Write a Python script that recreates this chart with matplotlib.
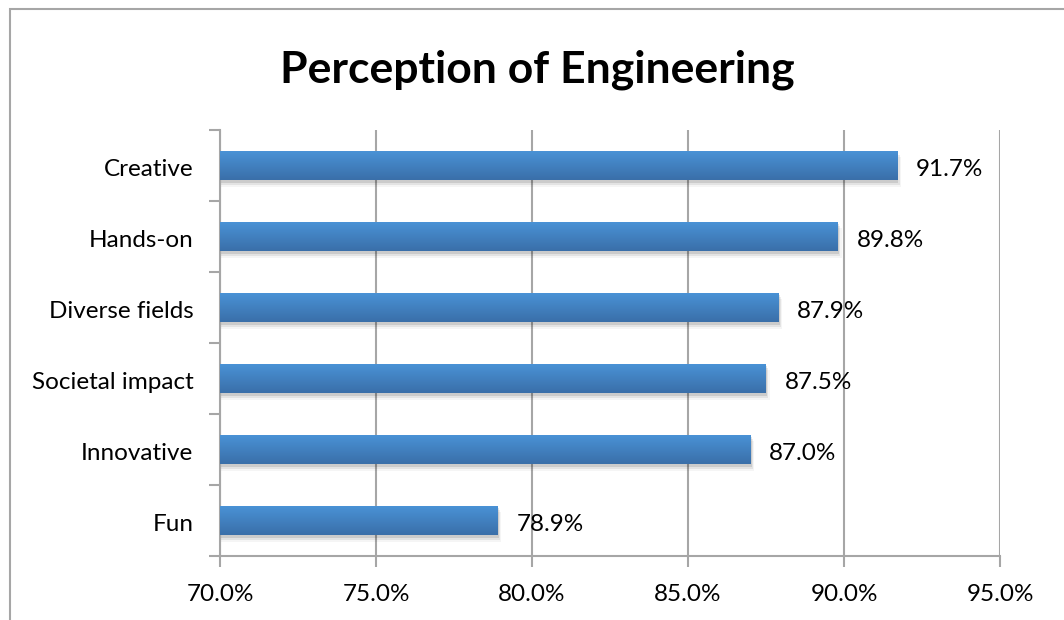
import matplotlib.pyplot as plt
import numpy as np
from matplotlib.colors import LinearSegmentedColormap
from matplotlib.patches import Rectangle
from matplotlib.transforms import ScaledTranslation, blended_transform_factory

categories = ["Fun", "Innovative", "Societal impact", "Diverse fields", "Hands-on", "Creative"]
values = [78.9, 87.0, 87.5, 87.9, 89.8, 91.7]
xticks = [70, 75, 80, 85, 90, 95]

plt.rcParams["font.family"] = ["Lato", "DejaVu Sans"]

fig = plt.figure(figsize=(10.64, 6.2), dpi=100)
ax = fig.add_axes([220 / 1064, 64 / 620, 780 / 1064, 426 / 620])
down = ScaledTranslation(0, -0.04, fig.dpi_scale_trans)  # nudge text down ~4px

# outer chart border (only top/left visible in the crop)
fig.patches.append(Rectangle((10 / 1064, -0.1), 1.2, 1.1 - 9 / 620, transform=fig.transFigure,
                             fill=False, edgecolor="#a6a6a6", linewidth=1.5))

grad = LinearSegmentedColormap.from_list("bar", ["#3a6fa9", "#4a93d7"])
y = np.arange(len(categories))
bar_h = 0.42
bars = ax.barh(y, [v - 70 for v in values], left=70, height=bar_h, color="none", zorder=3)

for b in bars:
    x0, y0, w, h = b.get_x(), b.get_y(), b.get_width(), b.get_height()
    # soft shadow
    for k, a in enumerate([0.10, 0.07, 0.04]):
        d = 0.03 * (k + 1)
        ax.add_patch(Rectangle((x0, y0 - d), w + 0.04 * (k + 1), h, facecolor="black",
                               edgecolor="none", alpha=a, zorder=2))
    im = ax.imshow(np.linspace(0, 1, 64).reshape(-1, 1), cmap=grad, aspect="auto",
                   extent=(x0, x0 + w, y0, y0 + h), origin="lower", zorder=3)
    im.set_clip_path(b)

for yi, v in zip(y, values):
    ax.text(v + 0.6, yi, f"{v:.1f}%", va="center", ha="left", fontsize=17.5, zorder=4,
            transform=ax.transData + down)

# category labels drawn as text so they can sit a little lower, like the original
label_tr = blended_transform_factory(ax.transAxes, ax.transData) + down
for yi, c in zip(y, categories):
    ax.text(-0.034, yi, c, ha="right", va="center", fontsize=17.5, transform=label_tr,
            clip_on=False)

ax.set_xlim(70, 95)
ax.set_ylim(-0.5, len(categories) - 0.5)
ax.set_xticks(xticks)
ax.set_xticklabels([f"{t:.1f}%" for t in xticks], fontsize=17.5)
ax.set_yticks([])
ax.set_yticks(np.arange(-0.5, len(categories), 1), minor=True)

ax.grid(axis="x", color="#a6a6a6", linewidth=1.5, zorder=1)
ax.set_axisbelow(True)
for s in ["top", "right"]:
    ax.spines[s].set_visible(False)
for s in ["left", "bottom"]:
    ax.spines[s].set_color("#a6a6a6")
    ax.spines[s].set_linewidth(1.5)

ax.tick_params(axis="y", which="minor", length=8, width=1.5, color="#a6a6a6", labelleft=False)
ax.tick_params(axis="x", length=8, width=1.5, color="#a6a6a6", pad=12)

fig.text(537 / 1064, 1 - 70 / 620, "Perception of Engineering", ha="center", va="center",
         fontsize=32, fontweight="bold")

fig.savefig("out.png", dpi=100)
